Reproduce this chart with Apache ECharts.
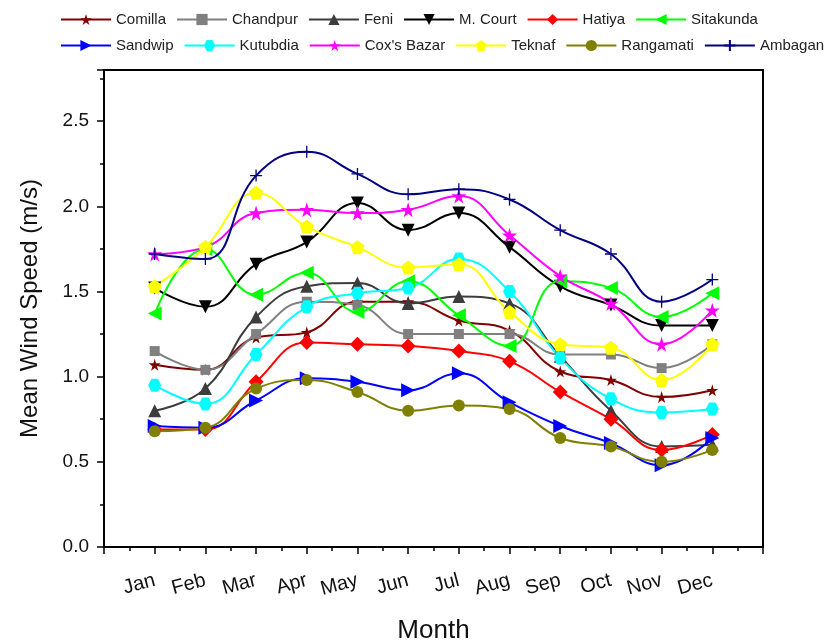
<!DOCTYPE html>
<html>
<head>
<meta charset="utf-8">
<script src="https://cdn.jsdelivr.net/npm/echarts@6/dist/echarts.min.js"></script>
<style>
  html, body { margin: 0; padding: 0; background: #fff; }
  #chart { width: 834px; height: 640px; }
</style>
</head>
<body>
<div id="chart"></div>
<script>
var months = ['Jan', 'Feb', 'Mar', 'Apr', 'May', 'Jun', 'Jul', 'Aug', 'Sep', 'Oct', 'Nov', 'Dec'];

var comilla   = [1.07, 1.04, 1.23, 1.26, 1.44, 1.44, 1.33, 1.27, 1.03, 0.98, 0.88, 0.92];
var chandpur  = [1.15, 1.04, 1.25, 1.44, 1.42, 1.25, 1.25, 1.25, 1.13, 1.13, 1.05, 1.19];
var feni      = [0.80, 0.93, 1.35, 1.53, 1.55, 1.43, 1.47, 1.43, 1.12, 0.80, 0.59, 0.60];
var mCourt    = [1.52, 1.41, 1.66, 1.79, 2.02, 1.86, 1.96, 1.76, 1.53, 1.42, 1.30, 1.30];
var hatiya    = [0.69, 0.69, 0.97, 1.20, 1.19, 1.18, 1.15, 1.09, 0.91, 0.75, 0.57, 0.66];
var sitakunda = [1.37, 1.75, 1.48, 1.61, 1.38, 1.56, 1.36, 1.18, 1.56, 1.52, 1.35, 1.49];
var sandwip   = [0.71, 0.70, 0.86, 0.99, 0.97, 0.92, 1.02, 0.85, 0.71, 0.61, 0.48, 0.64];
var kutubdia  = [0.95, 0.84, 1.13, 1.41, 1.49, 1.52, 1.69, 1.50, 1.11, 0.87, 0.79, 0.81];
var coxsBazar = [1.72, 1.76, 1.96, 1.98, 1.96, 1.98, 2.06, 1.83, 1.59, 1.43, 1.19, 1.39];
var teknaf    = [1.53, 1.76, 2.08, 1.88, 1.76, 1.64, 1.66, 1.38, 1.19, 1.17, 0.98, 1.19];
var rangamati = [0.68, 0.70, 0.93, 0.98, 0.91, 0.80, 0.83, 0.81, 0.64, 0.59, 0.50, 0.57];
var ambagan   = [1.72, 1.69, 2.18, 2.32, 2.19, 2.07, 2.10, 2.04, 1.86, 1.72, 1.44, 1.57];

var row1 = ['Comilla', 'Chandpur', 'Feni', 'M. Court', 'Hatiya', 'Sitakunda'];
var row2 = ['Sandwip', 'Kutubdia', "Cox's Bazar", 'Teknaf', 'Rangamati', 'Ambagan'];

// marker shapes
var STAR = 'path://M50,0 L61,35 L98,35 L68,57 L79,91 L50,70 L21,91 L32,57 L2,35 L39,35 Z';
var PENTA = 'path://M50,0 L98,35 L79,91 L21,91 L2,35 Z';
var HEXA = 'path://M25,0 L75,0 L100,50 L75,100 L25,100 L0,50 Z';
var PLUS = 'path://M50,0 L50,100 M0,50 L100,50';

function pts(arr) {
  return arr.map(function (v, i) { return [i + 1, v]; });
}

function line(name, data, color, symbol, size, rotate, extra) {
  var s = {
    name: name,
    type: 'line',
    data: pts(data),
    smooth: 0.45,
    symbol: symbol,
    symbolSize: size,
    symbolRotate: rotate || 0,
    lineStyle: { color: color, width: 2 },
    itemStyle: { color: color },
    emphasis: { disabled: true }
  };
  if (extra) s.itemStyle = extra;
  return s;
}

var series = [
  line('Comilla', comilla, '#800000', STAR, 12),
  line('Chandpur', chandpur, '#808080', 'rect', 10),
  line('Feni', feni, '#3d3d3d', 'triangle', 13),
  line('M. Court', mCourt, '#000000', 'triangle', 13, 180),
  line('Hatiya', hatiya, '#ff0000', 'diamond', 15),
  line('Sitakunda', sitakunda, '#00ff00', 'triangle', 14, 90),
  line('Sandwip', sandwip, '#0000ff', 'triangle', 14, -90),
  line('Kutubdia', kutubdia, '#00ffff', HEXA, 13),
  line("Cox's Bazar", coxsBazar, '#ff00ff', STAR, 15),
  line('Teknaf', teknaf, '#ffff00', PENTA, 14),
  line('Rangamati', rangamati, '#808000', 'circle', 12),
  line('Ambagan', ambagan, '#000080', PLUS, 12, 0,
       { color: 'rgba(0,0,0,0)', borderColor: '#000080', borderWidth: 1.3 })
];

var legendBase = {
  left: 55,
  width: 820,
  padding: [5, 0, 5, 5],
  itemWidth: 50,
  itemHeight: 14,
  itemGap: 10,
  textStyle: { fontFamily: 'Liberation Sans', fontSize: 15, color: '#222' }
};

var chart = echarts.init(document.getElementById('chart'));
chart.setOption({
  animation: false,
  textStyle: { fontFamily: 'Liberation Sans' },
  legend: [
    Object.assign({ top: 7, data: row1 }, legendBase),
    Object.assign({ top: 33, data: row2 }, legendBase)
  ],
  grid: {
    left: 104, right: 71, top: 70, bottom: 93,
    outerBoundsMode: 'none',
    show: true, borderColor: '#000', borderWidth: 2, backgroundColor: 'transparent'
  },
  xAxis: {
    type: 'value',
    min: 0, max: 13, interval: 1,
    name: 'Month',
    nameLocation: 'middle',
    nameGap: 71,
    nameTextStyle: { fontSize: 26, color: '#111' },
    axisLine: { lineStyle: { color: '#000', width: 2 } },
    axisTick: { inside: false, length: 7, lineStyle: { color: '#000', width: 1.5 } },
    minorTick: { show: true, splitNumber: 2, length: 4, lineStyle: { color: '#000', width: 1.5 } },
    splitLine: { show: false },
    axisLabel: {
      rotate: 15,
      margin: 33,
      fontSize: 20,
      color: '#111',
      formatter: function (v) { return months[v - 1] || ''; }
    }
  },
  yAxis: {
    type: 'value',
    min: 0, max: 2.8, interval: 0.5,
    name: 'Mean Wind Speed (m/s)',
    nameLocation: 'middle',
    nameGap: 62,
    nameTextStyle: { fontSize: 24, color: '#111' },
    axisLine: { lineStyle: { color: '#000', width: 2 } },
    axisTick: { inside: false, length: 7, lineStyle: { color: '#000', width: 1.5 } },
    minorTick: { show: true, splitNumber: 2, length: 4, lineStyle: { color: '#000', width: 1.5 } },
    splitLine: { show: false },
    axisLabel: {
      margin: 15,
      fontSize: 19,
      color: '#111',
      showMaxLabel: false,
      formatter: function (v) { return v.toFixed(1); }
    }
  },
  series: series
});
</script>
</body>
</html>
